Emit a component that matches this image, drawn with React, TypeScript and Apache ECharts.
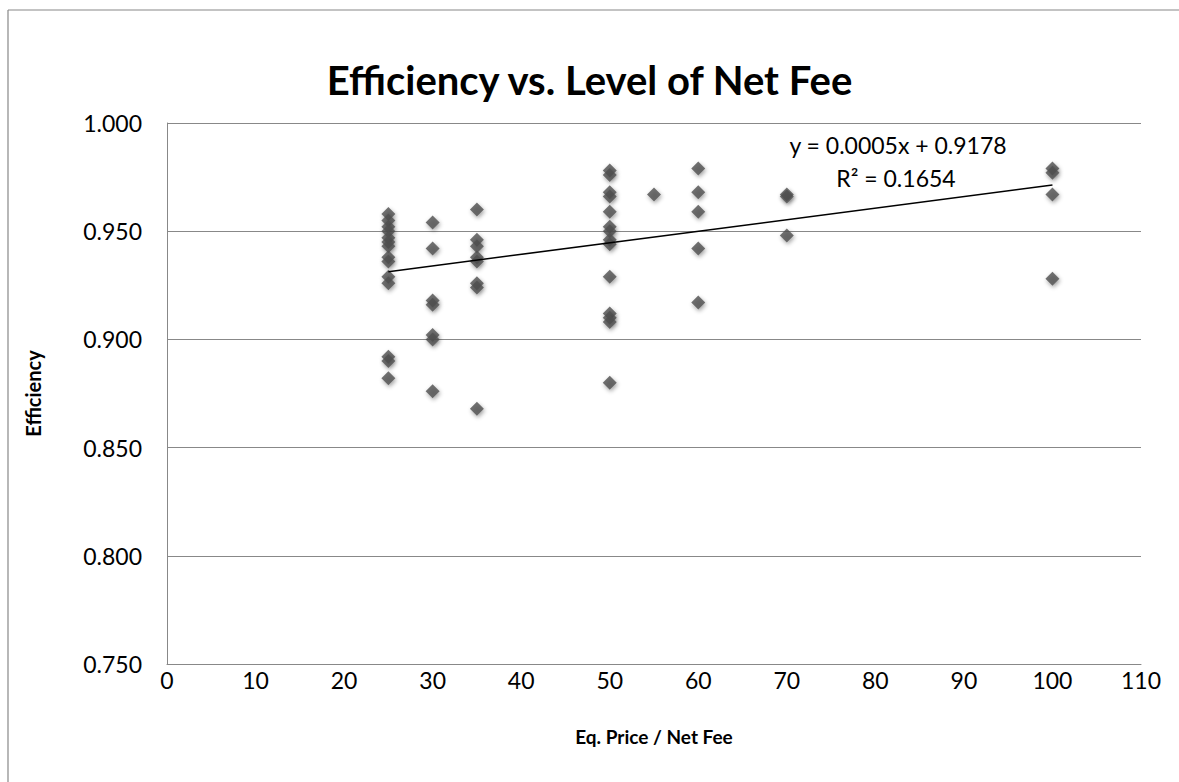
import React, { useEffect, useRef } from "react";
import * as echarts from "echarts";

// Data
const x25 = [0.958, 0.955, 0.952, 0.950, 0.947, 0.945, 0.943, 0.938, 0.936, 0.929, 0.926, 0.892, 0.890, 0.882];
const x30 = [0.954, 0.942, 0.918, 0.916, 0.902, 0.900, 0.876];
const x35 = [0.960, 0.946, 0.943, 0.938, 0.936, 0.926, 0.924, 0.868];
const x50 = [0.978, 0.976, 0.968, 0.966, 0.959, 0.952, 0.950, 0.946, 0.944, 0.929, 0.912, 0.910, 0.908, 0.880];
const x55 = [0.967];
const x60 = [0.979, 0.968, 0.959, 0.942, 0.917];
const x70 = [0.967, 0.966, 0.948];
const x100 = [0.979, 0.977, 0.967, 0.928];

const groups: [number, number[]][] = [
  [25, x25], [30, x30], [35, x35], [50, x50], [55, x55], [60, x60], [70, x70], [100, x100],
];

const trendX = [25, 100];
const trendY = [0.9313, 0.9713];

const xTicks = { min: 0, max: 110, interval: 10 };
const yTicks = { min: 0.75, max: 1.0, interval: 0.05 };

const titleText = "Efficiency vs. Level of Net Fee";
const xName = "Eq. Price / Net Fee";
const yName = "Efficiency";
const eqLine1 = "y = 0.0005x + 0.9178";
const eqLine2 = "R² = 0.1654";

const FONT = "Lato, 'Open Sans', sans-serif";

export default function App() {
  const ref = useRef<HTMLDivElement>(null);
  useEffect(() => {
    if (!ref.current) return;
    const chart = echarts.init(ref.current, undefined, { renderer: "svg" });
    const points: number[][] = [];
    groups.forEach(([x, ys]) => ys.forEach((y) => points.push([x, y])));
    chart.setOption({
      animation: false,
      backgroundColor: "#ffffff",
      title: {
        text: titleText,
        left: "center",
        top: 55,
        textStyle: { fontSize: 40, fontWeight: "bold", color: "#000", fontFamily: FONT },
      },
      grid: { left: 167, right: 38, top: 123, bottom: 118 },
      xAxis: {
        type: "value",
        min: xTicks.min,
        max: xTicks.max,
        interval: xTicks.interval,
        name: xName,
        nameLocation: "middle",
        nameGap: 63,
        nameTextStyle: { fontSize: 19, fontWeight: "bold", color: "#000", fontFamily: FONT },
        axisLine: { show: true, lineStyle: { color: "#888", width: 1 } },
        axisTick: { show: false },
        axisLabel: { fontSize: 23, color: "#000", margin: 4, fontFamily: FONT },
        splitLine: { show: false },
      },
      yAxis: {
        type: "value",
        min: yTicks.min,
        max: yTicks.max,
        interval: yTicks.interval,
        name: yName,
        nameLocation: "middle",
        nameGap: 124,
        nameTextStyle: { fontSize: 20, fontWeight: "bold", color: "#000", fontFamily: FONT },
        axisLine: { show: true, lineStyle: { color: "#888", width: 1 } },
        axisTick: { show: false },
        axisLabel: {
          fontSize: 23,
          color: "#000",
          margin: 25,
          fontFamily: FONT,
          formatter: (v: number) => v.toFixed(3),
        },
        splitLine: { show: true, lineStyle: { color: "#888", width: 1 } },
      },
      graphic: [
        {
          type: "line",
          shape: { x1: 8, y1: 10, x2: 8, y2: 790 },
          style: { stroke: "#888", lineWidth: 1.2 },
          silent: true,
        },
        {
          type: "line",
          shape: { x1: 8, y1: 10, x2: 1190, y2: 10 },
          style: { stroke: "#888", lineWidth: 1.2 },
          silent: true,
        },
        {
          type: "text",
          x: 898,
          y: 145,
          style: {
            text: eqLine1,
            fontSize: 23,
            fontFamily: FONT,
            fill: "#000",
            align: "center",
            verticalAlign: "middle",
          },
        },
        {
          type: "text",
          x: 896,
          y: 178,
          style: {
            text: eqLine2,
            fontSize: 23,
            fontFamily: FONT,
            fill: "#000",
            align: "center",
            verticalAlign: "middle",
          },
        },
      ],
      series: [
        {
          type: "scatter",
          data: points,
          symbol: "diamond",
          symbolSize: 14,
          itemStyle: {
            color: "#505050",
            shadowBlur: 4,
            shadowColor: "rgba(0,0,0,0.45)",
            shadowOffsetX: 1,
            shadowOffsetY: 2,
          },
          z: 2,
        },
        {
          type: "line",
          data: trendX.map((x, i) => [x, trendY[i]]),
          symbol: "none",
          lineStyle: { color: "#000", width: 1.5 },
          z: 3,
        },
      ],
    });
    return () => chart.dispose();
  }, []);
  return (
    <div
      ref={ref}
      style={{ position: "fixed", left: 0, top: 0, width: 1179, height: 782, background: "#fff" }}
    />
  );
}
